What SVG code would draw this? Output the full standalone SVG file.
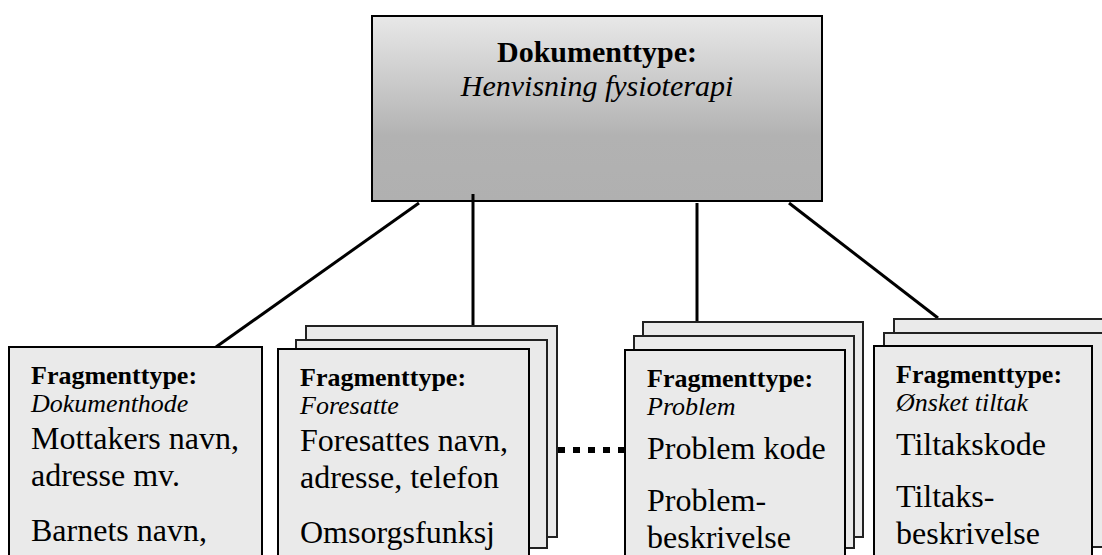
<svg xmlns="http://www.w3.org/2000/svg" width="1102" height="555" viewBox="0 0 1102 555">
<defs>
<linearGradient id="g" x1="0" y1="0" x2="0" y2="1">
<stop offset="0" stop-color="#e8e8e8"/>
<stop offset="0.65" stop-color="#b2b2b2"/>
<stop offset="1" stop-color="#b0b0b0"/>
</linearGradient>
<style>
text{font-family:"Liberation Serif","Times New Roman",serif;fill:#000}
.frag{fill:#eaeaea;stroke:#000;stroke-width:2}
.back{fill:#eaeaea;stroke:#222;stroke-width:2}
.h{font-weight:bold;font-size:26px}
.i{font-style:italic;font-size:26px}
.b{font-size:32px}
.t{font-size:30px}
.conn{stroke:#000;stroke-width:3;fill:none}
</style>
</defs>
<g id="doc">
<rect x="372" y="16" width="450" height="185" fill="url(#g)" stroke="#000" stroke-width="2"/>
<text class="t" x="597" y="62" text-anchor="middle" font-weight="bold">Dokumenttype:</text>
<text class="t" x="597" y="96" text-anchor="middle" font-style="italic">Henvisning fysioterapi</text>
</g>
<g id="connectors">
<line class="conn" x1="419" y1="203" x2="216" y2="347"/>
<line class="conn" x1="473" y1="194" x2="473" y2="326"/>
<line class="conn" x1="697" y1="203" x2="697" y2="322"/>
<line class="conn" x1="789" y1="203" x2="938" y2="318"/>
<line x1="558" y1="450" x2="625" y2="450" stroke="#000" stroke-width="6" stroke-dasharray="7 8"/>
</g>
<g id="dokumenthode">
<rect class="frag" x="9" y="347" width="253" height="215"/>
<text class="h" x="31" y="384">Fragmenttype:</text>
<text class="i" x="31" y="412">Dokumenthode</text>
<text class="b" x="31" y="449">Mottakers navn,</text>
<text class="b" x="31" y="486">adresse mv.</text>
<text class="b" x="31" y="541">Barnets navn,</text>
</g>
<g id="foresatte">
<rect class="back" x="306" y="326" width="251" height="211"/>
<rect class="back" x="296" y="340" width="251" height="208"/>
<rect class="frag" x="278" y="349" width="251" height="215"/>
<text class="h" x="300" y="386">Fragmenttype:</text>
<text class="i" x="300" y="414">Foresatte</text>
<text class="b" x="300" y="451">Foresattes navn,</text>
<text class="b" x="300" y="488">adresse, telefon</text>
<text class="b" x="300" y="543">Omsorgsfunksj</text>
</g>
<g id="problem">
<rect class="back" x="643" y="322" width="220" height="215"/>
<rect class="back" x="634" y="336" width="220" height="212"/>
<rect class="frag" x="625" y="350" width="220" height="215"/>
<text class="h" x="647" y="387">Fragmenttype:</text>
<text class="i" x="647" y="415">Problem</text>
<text class="b" x="647" y="459">Problem kode</text>
<text class="b" x="647" y="511">Problem-</text>
<text class="b" x="647" y="548">beskrivelse</text>
</g>
<g id="tiltak">
<rect class="back" x="894" y="319" width="220" height="214"/>
<rect class="back" x="884" y="333" width="220" height="214"/>
<rect class="frag" x="874" y="346" width="218" height="215"/>
<text class="h" x="896" y="383">Fragmenttype:</text>
<text class="i" x="896" y="411">Ønsket tiltak</text>
<text class="b" x="896" y="455">Tiltakskode</text>
<text class="b" x="896" y="507">Tiltaks-</text>
<text class="b" x="896" y="544">beskrivelse</text>
</g>
</svg>
